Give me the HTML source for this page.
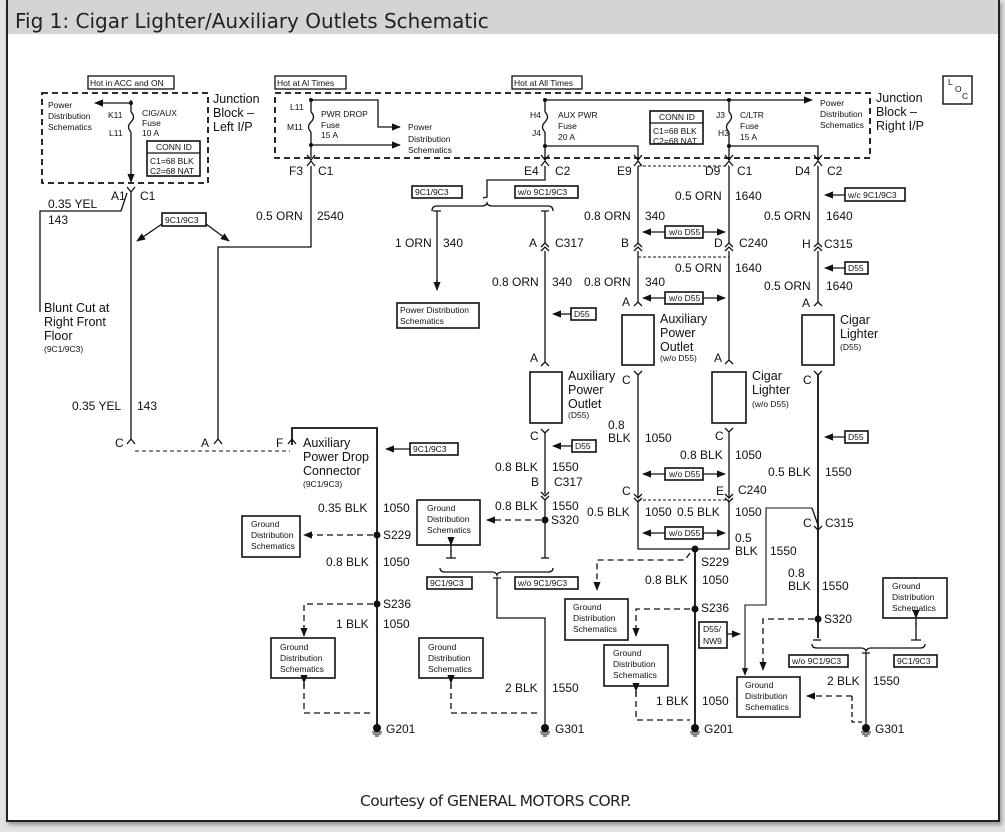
<!DOCTYPE html>
<html><head><meta charset="utf-8"><style>
html,body{margin:0;padding:0;background:#e3e3e3;}
.wrap{position:absolute;left:0;top:0;width:1005px;height:832px;overflow:hidden;background:#e3e3e3;}
.frame{position:absolute;left:6px;top:0;width:990px;height:820px;background:#fff;border-left:2px solid #222;border-right:2px solid #222;border-bottom:2px solid #222;box-shadow:2px 3px 4px #999;}
.title{position:absolute;left:0;top:0;width:990px;height:34px;background:#d4d4d4;font-family:"DejaVu Sans","Liberation Sans",sans-serif;font-size:20px;color:#222;line-height:42px;padding-left:7px;box-sizing:border-box;}
.cap{position:absolute;left:360px;top:792px;font-family:"DejaVu Sans","Liberation Sans",sans-serif;font-size:15.5px;color:#222;letter-spacing:-0.6px;}
svg{position:absolute;left:0;top:0;}
text{font-family:"Liberation Sans",sans-serif;fill:#111;dominant-baseline:central;}
.l{font-size:12px}.s{font-size:8.5px}.m{font-size:9.5px}.b{font-size:12.5px}
</style></head><body><div class="wrap">
<div class="frame"><div class="title">Fig 1: Cigar Lighter/Auxiliary Outlets Schematic</div></div>
<div class="cap">Courtesy of GENERAL MOTORS CORP.</div>
<svg width="1005" height="832" viewBox="0 0 1005 832">
<defs>
<marker id="ar" viewBox="0 0 10 10" refX="9" refY="5" markerWidth="7" markerHeight="7" orient="auto"><path d="M0,1 L10,5 L0,9z" fill="#111"/></marker>
</defs>
<g stroke="#111" fill="none" stroke-width="1.3">
<rect x="42" y="93" width="166" height="90" stroke-dasharray="6,4" stroke-width="1.8"/>
<rect x="275" y="93" width="595" height="65" stroke-dasharray="6,4" stroke-width="1.8"/>
<rect x="88" y="76" width="86" height="13"/>
<rect x="275" y="76" width="71" height="13"/>
<rect x="512" y="76" width="70" height="13"/>
<rect x="147" y="141" width="53" height="35" stroke-width="1.6"/><line x1="147" y1="153" x2="200" y2="153"/>
<rect x="650" y="111" width="53" height="33" stroke-width="1.6"/><line x1="650" y1="123" x2="703" y2="123"/>
<rect x="943" y="76" width="29" height="28" stroke-width="1.4"/>
<line x1="131" y1="100" x2="131" y2="112"/><path d="M131,112 q5,5 0,10 q-5,5 0,10"/><line x1="131" y1="132" x2="131" y2="182" marker-end="url(#ar)"/>
<line x1="131" y1="103" x2="95" y2="103" marker-end="url(#ar)"/>
<path d="M127,187 l4,5 l4,-5"/>
<line x1="131" y1="192" x2="131" y2="440"/>
<path d="M127,193 L121,211 L40,211 L40,312"/>
<rect x="162" y="213" width="44" height="13" stroke-width="1.6"/>
<line x1="162" y1="224" x2="137" y2="241" marker-end="url(#ar)"/>
<line x1="206" y1="224" x2="229" y2="241" marker-end="url(#ar)"/>
<path d="M127,444 l4,-5 l4,5"/>
<line x1="135" y1="451" x2="290" y2="451" stroke-dasharray="4,3" stroke-width="1"/>
<line x1="311" y1="100" x2="311" y2="112"/><path d="M311,112 q5,5 0,10 q-5,5 0,10"/><line x1="311" y1="132" x2="311" y2="158"/>
<path d="M311,100 L378,100 L378,127 L400,127" marker-end="url(#ar)"/>
<line x1="311" y1="145" x2="400" y2="145" marker-end="url(#ar)"/>
<path d="M307,155 l4,5 l4,-5 M307,166 l4,-5 l4,5"/>
<path d="M311,166 L311,247 L218,247 L218,440"/>
<path d="M214,444 l4,-5 l4,5"/>
<path d="M292,445 L292,428 L377,428 L377,728" stroke-width="1.8"/>
<path d="M288,444 l4,-5 l4,5"/>
<rect x="410" y="443" width="48" height="12" stroke-width="1.6"/>
<line x1="410" y1="449" x2="386" y2="449" marker-end="url(#ar)"/>
<rect x="242" y="516" width="58" height="41" stroke-width="1.6"/>
<line x1="373" y1="535" x2="304" y2="535" stroke-dasharray="6,4" marker-end="url(#ar)"/>
<path d="M373,604 L304,604 L304,636" stroke-dasharray="6,4" marker-end="url(#ar)"/>
<rect x="271" y="638" width="64" height="40" stroke-width="1.6"/>
<path d="M304,683 L304,713 L372,713" stroke-dasharray="6,4"/>
<line x1="304" y1="683" x2="304" y2="688" marker-start="url(#ar)"/>
<line x1="545" y1="100" x2="545" y2="112"/><path d="M545,112 q5,5 0,10 q-5,5 0,10"/><line x1="545" y1="132" x2="545" y2="158"/>
<line x1="545" y1="100" x2="812" y2="100" marker-end="url(#ar)"/>
<path d="M545,146 L638,146 L638,158"/>
<path d="M541,155 l4,5 l4,-5 M541,166 l4,-5 l4,5 M634,155 l4,5 l4,-5 M634,166 l4,-5 l4,5"/>
<path d="M545,166 L545,180 L487,180 L487,197 L483,198"/>
<rect x="412" y="186" width="50" height="12" stroke-width="1.6"/>
<rect x="515" y="186" width="63" height="12" stroke-width="1.6"/>
<path d="M432,211 q0,-5 5,-5 L482,206 q4,0 5,-3 q1,3 5,3 L548,206 q5,0 5,5"/>
<path d="M433,211 l8,0 M437,211 L437,290"/><line x1="437" y1="280" x2="437" y2="290" marker-end="url(#ar)"/>
<rect x="397" y="303" width="82" height="25" stroke-width="1.6"/>
<path d="M541,211 l8,0 M545,211 L545,244"/>
<path d="M541,247 l4,-4 l4,4 M541,251 l4,-4 l4,4"/>
<line x1="545" y1="251" x2="545" y2="362"/>
<path d="M541,366 l4,-4 l4,4"/>
<rect x="571" y="308" width="25" height="12" stroke-width="1.6"/>
<line x1="571" y1="314" x2="553" y2="314" marker-end="url(#ar)"/>
<rect x="530" y="372" width="32" height="51" stroke-width="1.6"/>
<path d="M541,429 l4,4 l4,-4"/>
<line x1="545" y1="433" x2="545" y2="494"/>
<rect x="572" y="440" width="24" height="12" stroke-width="1.6"/>
<line x1="572" y1="446" x2="553" y2="446" marker-end="url(#ar)"/>
<path d="M541,492 l4,4 l4,-4 M541,496 l4,4 l4,-4"/>
<line x1="545" y1="500" x2="545" y2="558"/>
<path d="M541,558 l8,0"/>
<rect x="417" y="500" width="63" height="45" stroke-width="1.6"/>
<line x1="541" y1="520" x2="487" y2="520" stroke-dasharray="6,4" marker-end="url(#ar)"/>
<line x1="451" y1="545" x2="451" y2="552" marker-start="url(#ar)"/>
<path d="M451,550 L451,558 M446,558 l10,0"/>
<path d="M440,568 q0,4 5,4 L492,572 q4,0 5,3 q1,-3 5,-3 L548,572 q5,0 5,-4"/>
<path d="M493,578 L501,578 M497,578 L497,618 L545,618 L545,728"/>
<rect x="427" y="577" width="45" height="12" stroke-width="1.6"/>
<rect x="515" y="577" width="63" height="12" stroke-width="1.6"/>
<rect x="419" y="638" width="64" height="40" stroke-width="1.6"/>
<path d="M451,683 L451,713 L540,713" stroke-dasharray="6,4"/>
<line x1="451" y1="683" x2="451" y2="688" marker-start="url(#ar)"/>
<line x1="638" y1="166" x2="638" y2="244"/>
<path d="M634,247 l4,-4 l4,4 M634,251 l4,-4 l4,4"/>
<line x1="638" y1="251" x2="638" y2="302"/>
<path d="M634,306 l4,-4 l4,4"/>
<line x1="638" y1="257" x2="729" y2="257" stroke-dasharray="3,2" stroke-width="1"/>
<line x1="638" y1="166" x2="729" y2="166" stroke-dasharray="3,2" stroke-width="1"/>
<rect x="665" y="226" width="38" height="12" stroke-width="1.6"/>
<line x1="665" y1="232" x2="643" y2="232" marker-end="url(#ar)"/><line x1="703" y1="232" x2="725" y2="232" marker-end="url(#ar)"/>
<rect x="665" y="292" width="38" height="12" stroke-width="1.6"/>
<line x1="665" y1="298" x2="643" y2="298" marker-end="url(#ar)"/><line x1="703" y1="298" x2="725" y2="298" marker-end="url(#ar)"/>
<rect x="622" y="315" width="32" height="50" stroke-width="1.6"/>
<path d="M634,371 l4,4 l4,-4"/>
<line x1="638" y1="375" x2="638" y2="497"/>
<path d="M634,494 l4,4 l4,-4 M634,498 l4,4 l4,-4"/>
<rect x="665" y="468" width="38" height="12" stroke-width="1.6"/>
<line x1="665" y1="474" x2="643" y2="474" marker-end="url(#ar)"/><line x1="703" y1="474" x2="725" y2="474" marker-end="url(#ar)"/>
<line x1="638" y1="500" x2="729" y2="500" stroke-dasharray="3,2" stroke-width="1"/>
<rect x="665" y="527" width="38" height="12" stroke-width="1.6"/>
<line x1="665" y1="533" x2="643" y2="533" marker-end="url(#ar)"/><line x1="703" y1="533" x2="725" y2="533" marker-end="url(#ar)"/>
<path d="M638,502 L638,549 L729,549 L729,502"/>
<line x1="695" y1="549" x2="695" y2="728" stroke-width="1.8"/>
<path d="M690,553 L685,560 L597,560 L597,590" stroke-dasharray="6,4" marker-end="url(#ar)"/>
<rect x="565" y="599" width="63" height="41" stroke-width="1.6"/>
<path d="M690,609 L636,609 L636,636" stroke-dasharray="6,4" marker-end="url(#ar)"/>
<rect x="604" y="645" width="64" height="41" stroke-width="1.6"/>
<path d="M636,691 L636,720 L690,720" stroke-dasharray="6,4"/>
<line x1="636" y1="691" x2="636" y2="696" marker-start="url(#ar)"/>
<line x1="729" y1="100" x2="729" y2="112"/><path d="M729,112 q5,5 0,10 q-5,5 0,10"/><line x1="729" y1="132" x2="729" y2="158"/>
<path d="M729,146 L818,146 L818,158"/>
<path d="M725,155 l4,5 l4,-5 M725,166 l4,-5 l4,5 M814,155 l4,5 l4,-5 M814,166 l4,-5 l4,5"/>
<line x1="729" y1="166" x2="729" y2="244"/>
<path d="M725,247 l4,-4 l4,4 M725,251 l4,-4 l4,4"/>
<line x1="729" y1="251" x2="729" y2="360"/>
<path d="M725,364 l4,-4 l4,4"/>
<rect x="712" y="372" width="34" height="51" stroke-width="1.6"/>
<path d="M725,428 l4,4 l4,-4"/>
<line x1="729" y1="432" x2="729" y2="497"/>
<path d="M725,494 l4,4 l4,-4 M725,498 l4,4 l4,-4"/>
<path d="M812,508 L766,508 L766,605 L745,605 L745,675" stroke-width="1.1" marker-end="url(#ar)"/>
<rect x="699" y="622" width="28" height="26" stroke-width="1.6"/>
<line x1="727" y1="634" x2="740" y2="634" marker-end="url(#ar)"/>
<rect x="737" y="677" width="63" height="40" stroke-width="1.6"/>
<line x1="818" y1="166" x2="818" y2="244"/>
<rect x="845" y="188" width="60" height="13" stroke-width="1.6"/>
<line x1="845" y1="195" x2="825" y2="195" marker-end="url(#ar)"/>
<path d="M814,247 l4,-4 l4,4 M814,251 l4,-4 l4,4"/>
<line x1="818" y1="251" x2="818" y2="302"/>
<rect x="845" y="262" width="23" height="12" stroke-width="1.6"/>
<line x1="845" y1="268" x2="825" y2="268" marker-end="url(#ar)"/>
<path d="M814,306 l4,-4 l4,4"/>
<rect x="802" y="315" width="32" height="50" stroke-width="1.6"/>
<path d="M814,371 l4,4 l4,-4"/>
<line x1="818" y1="375" x2="818" y2="530" stroke-width="1.8"/>
<rect x="845" y="431" width="23" height="12" stroke-width="1.6"/>
<line x1="845" y1="437" x2="825" y2="437" marker-end="url(#ar)"/>
<path d="M812,508 L818,525"/>
<path d="M814,526 l4,4 l4,-4"/>
<line x1="818" y1="530" x2="818" y2="638" stroke-width="1.8"/>
<path d="M813,640 l8,0"/>
<path d="M814,619 L763,619 L763,670" stroke-dasharray="6,4" marker-end="url(#ar)"/>
<rect x="883" y="578" width="64" height="40" stroke-width="1.6"/>
<line x1="916" y1="618" x2="916" y2="625" marker-start="url(#ar)"/>
<path d="M916,623 L916,640 M911,640 l10,0"/>
<path d="M812,644 q0,4 5,4 L861,648 q4,0 5,3 q1,-3 5,-3 L920,648 q5,0 5,-4"/>
<path d="M862,653 L870,653 M866,653 L866,728"/>
<rect x="789" y="655" width="59" height="12" stroke-width="1.6"/>
<rect x="894" y="655" width="43" height="12" stroke-width="1.6"/>
<path d="M852,696 L852,722 L862,722" stroke-dasharray="5,3"/>
<line x1="852" y1="696" x2="807" y2="696" stroke-dasharray="6,4" marker-end="url(#ar)"/>
</g>
<g fill="#111">
<circle cx="377" cy="535" r="3.5"/><circle cx="377" cy="604" r="3.5"/>
<circle cx="545" cy="520" r="3.5"/><circle cx="695" cy="549" r="3.5"/><circle cx="695" cy="609" r="3.5"/><circle cx="818" cy="619" r="3.5"/>
<circle cx="311" cy="100" r="2"/><circle cx="311" cy="145" r="2"/><circle cx="545" cy="100" r="2"/><circle cx="545" cy="146" r="2"/><circle cx="729" cy="100" r="2"/><circle cx="729" cy="146" r="2"/><circle cx="131" cy="103" r="2"/>
</g>
<g stroke="#111" stroke-width="1">
<circle cx="377" cy="728" r="3.5" fill="#111"/><path d="M372,732h10M373,734h8M375,736h4"/>
<circle cx="545" cy="728" r="3.5" fill="#111"/><path d="M540,732h10M541,734h8M543,736h4"/>
<circle cx="695" cy="728" r="3.5" fill="#111"/><path d="M690,732h10M691,734h8M693,736h4"/>
<circle cx="866" cy="728" r="3.5" fill="#111"/><path d="M861,732h10M862,734h8M864,736h4"/>
</g>
<text class="s" x="90" y="83">Hot in ACC and ON</text>
<text class="s" x="277" y="83">Hot at Al Times</text>
<text class="s" x="514" y="83">Hot at All Times</text>
<text class="s" x="48" y="105">Power</text><text class="s" x="48" y="116">Distribution</text><text class="s" x="48" y="127">Schematics</text>
<text class="s" x="108" y="115">K11</text><text class="s" x="109" y="133">L11</text>
<text class="s" x="142" y="113">CIG/AUX</text><text class="s" x="142" y="123">Fuse</text><text class="s" x="142" y="133">10 A</text>
<text class="s" x="156" y="147">CONN ID</text><text class="s" x="150" y="161">C1=68 BLK</text><text class="s" x="150" y="171">C2=68 NAT</text>
<text class="b" x="213" y="99">Junction</text><text class="b" x="213" y="113">Block –</text><text class="b" x="213" y="127">Left I/P</text>
<text class="s" x="290" y="107">L11</text><text class="s" x="287" y="127">M11</text>
<text class="s" x="321" y="114">PWR DROP</text><text class="s" x="321" y="125">Fuse</text><text class="s" x="321" y="135">15 A</text>
<text class="s" x="408" y="127">Power</text><text class="s" x="408" y="139">Distribution</text><text class="s" x="408" y="150">Schematics</text>
<text class="s" x="530" y="115">H4</text><text class="s" x="532" y="133">J4</text>
<text class="s" x="558" y="115">AUX PWR</text><text class="s" x="558" y="126">Fuse</text><text class="s" x="558" y="137">20 A</text>
<text class="s" x="659" y="117">CONN ID</text><text class="s" x="653" y="131">C1=68 BLK</text><text class="s" x="653" y="141">C2=68 NAT</text>
<text class="s" x="716" y="115">J3</text><text class="s" x="718" y="133">H3</text>
<text class="s" x="740" y="115">C/LTR</text><text class="s" x="740" y="126">Fuse</text><text class="s" x="740" y="137">15 A</text>
<text class="s" x="820" y="103">Power</text><text class="s" x="820" y="114">Distribution</text><text class="s" x="820" y="125">Schematics</text>
<text class="b" x="876" y="98">Junction</text><text class="b" x="876" y="112">Block –</text><text class="b" x="876" y="126">Right I/P</text>
<text class="s" x="948" y="82">L</text><text class="s" x="955" y="89">O</text><text class="s" x="962" y="96">C</text>
<text class="l" x="289" y="171">F3</text><text class="l" x="318" y="171">C1</text>
<text class="l" x="524" y="171">E4</text><text class="l" x="555" y="171">C2</text>
<text class="l" x="617" y="171">E9</text><text class="l" x="705" y="171">D9</text><text class="l" x="737" y="171">C1</text>
<text class="l" x="795" y="171">D4</text><text class="l" x="827" y="171">C2</text>
<text class="l" x="111" y="196">A1</text><text class="l" x="140" y="196">C1</text>
<text class="l" x="48" y="204">0.35 YEL</text><text class="l" x="48" y="220">143</text>
<text class="s" x="165" y="220">9C1/9C3</text>
<text class="l" x="256" y="216">0.5 ORN</text><text class="l" x="317" y="216">2540</text>
<text class="s" x="415" y="192">9C1/9C3</text><text class="s" x="518" y="192">w/o 9C1/9C3</text>
<text class="l" x="675" y="196">0.5 ORN</text><text class="l" x="735" y="196">1640</text>
<text class="s" x="848" y="195">w/c 9C1/9C3</text>
<text class="l" x="584" y="216">0.8 ORN</text><text class="l" x="645" y="216">340</text>
<text class="l" x="764" y="216">0.5 ORN</text><text class="l" x="826" y="216">1640</text>
<text class="s" x="669" y="232">w/o D55</text>
<text class="l" x="395" y="243">1 ORN</text><text class="l" x="443" y="243">340</text>
<text class="l" x="529" y="243">A</text><text class="l" x="555" y="243">C317</text>
<text class="l" x="621" y="243">B</text><text class="l" x="714" y="243">D</text><text class="l" x="739" y="243">C240</text>
<text class="l" x="802" y="244">H</text><text class="l" x="824" y="244">C315</text>
<text class="s" x="848" y="268">D55</text>
<text class="l" x="675" y="268">0.5 ORN</text><text class="l" x="735" y="268">1640</text>
<text class="l" x="492" y="282">0.8 ORN</text><text class="l" x="552" y="282">340</text>
<text class="l" x="584" y="282">0.8 ORN</text><text class="l" x="645" y="282">340</text>
<text class="l" x="764" y="286">0.5 ORN</text><text class="l" x="826" y="286">1640</text>
<text class="s" x="669" y="298">w/o D55</text>
<text class="l" x="622" y="302">A</text><text class="l" x="802" y="303">A</text>
<text class="b" x="44" y="308">Blunt Cut at</text><text class="b" x="44" y="322">Right Front</text><text class="b" x="44" y="336">Floor</text><text class="s" x="44" y="349">(9C1/9C3)</text>
<text class="s" x="400" y="310">Power Distribution</text><text class="s" x="400" y="321">Schematics</text>
<text class="s" x="574" y="314">D55</text>
<text class="b" x="660" y="319">Auxiliary</text><text class="b" x="660" y="333">Power</text><text class="b" x="660" y="347">Outlet</text><text class="s" x="660" y="358">(w/o D55)</text>
<text class="b" x="840" y="320">Cigar</text><text class="b" x="840" y="334">Lighter</text><text class="s" x="840" y="347">(D55)</text>
<text class="l" x="530" y="358">A</text><text class="l" x="714" y="358">A</text>
<text class="l" x="622" y="380">C</text><text class="l" x="803" y="380">C</text>
<text class="b" x="568" y="376">Auxiliary</text><text class="b" x="568" y="390">Power</text><text class="b" x="568" y="404">Outlet</text><text class="s" x="568" y="415">(D55)</text>
<text class="b" x="752" y="376">Cigar</text><text class="b" x="752" y="390">Lighter</text><text class="s" x="752" y="404">(w/o D55)</text>
<text class="l" x="72" y="406">0.35 YEL</text><text class="l" x="137" y="406">143</text>
<text class="l" x="608" y="425">0.8</text><text class="l" x="608" y="438">BLK</text><text class="l" x="645" y="438">1050</text>
<text class="l" x="530" y="436">C</text><text class="l" x="715" y="436">C</text>
<text class="s" x="848" y="437">D55</text>
<text class="l" x="115" y="443">C</text><text class="l" x="201" y="443">A</text><text class="l" x="276" y="443">F</text>
<text class="b" x="303" y="443">Auxiliary</text><text class="b" x="303" y="457">Power Drop</text><text class="b" x="303" y="471">Connector</text><text class="s" x="303" y="484">(9C1/9C3)</text>
<text class="s" x="413" y="449">9C1/9C3</text><text class="s" x="575" y="446">D55</text>
<text class="l" x="680" y="455">0.8 BLK</text><text class="l" x="735" y="455">1050</text>
<text class="l" x="495" y="467">0.8 BLK</text><text class="l" x="552" y="467">1550</text>
<text class="s" x="669" y="474">w/o D55</text>
<text class="l" x="768" y="472">0.5 BLK</text><text class="l" x="825" y="472">1550</text>
<text class="l" x="531" y="482">B</text><text class="l" x="554" y="482">C317</text>
<text class="l" x="622" y="491">C</text><text class="l" x="716" y="491">E</text><text class="l" x="738" y="490">C240</text>
<text class="l" x="495" y="506">0.8 BLK</text><text class="l" x="552" y="506">1550</text>
<text class="l" x="318" y="508">0.35 BLK</text><text class="l" x="383" y="508">1050</text>
<text class="s" x="427" y="508">Ground</text><text class="s" x="427" y="519">Distribution</text><text class="s" x="427" y="530">Schematics</text>
<text class="l" x="587" y="512">0.5 BLK</text><text class="l" x="645" y="512">1050</text><text class="l" x="677" y="512">0.5 BLK</text><text class="l" x="735" y="512">1050</text>
<text class="l" x="551" y="520">S320</text>
<text class="l" x="803" y="523">C</text><text class="l" x="825" y="523">C315</text>
<text class="s" x="251" y="524">Ground</text><text class="s" x="251" y="535">Distribution</text><text class="s" x="251" y="546">Schematics</text>
<text class="l" x="383" y="535">S229</text>
<text class="s" x="669" y="533">w/o D55</text>
<text class="l" x="735" y="538">0.5</text><text class="l" x="735" y="551">BLK</text><text class="l" x="770" y="551">1550</text>
<text class="l" x="701" y="562">S229</text>
<text class="l" x="326" y="562">0.8 BLK</text><text class="l" x="383" y="562">1050</text>
<text class="l" x="788" y="573">0.8</text><text class="l" x="788" y="586">BLK</text><text class="l" x="822" y="586">1550</text>
<text class="s" x="430" y="583">9C1/9C3</text><text class="s" x="518" y="583">w/o 9C1/9C3</text>
<text class="l" x="645" y="580">0.8 BLK</text><text class="l" x="702" y="580">1050</text>
<text class="s" x="892" y="586">Ground</text><text class="s" x="892" y="597">Distribution</text><text class="s" x="892" y="608">Schematics</text>
<text class="l" x="383" y="604">S236</text>
<text class="s" x="573" y="607">Ground</text><text class="s" x="573" y="618">Distribution</text><text class="s" x="573" y="629">Schematics</text>
<text class="l" x="701" y="608">S236</text>
<text class="l" x="824" y="619">S320</text>
<text class="l" x="336" y="624">1 BLK</text><text class="l" x="383" y="624">1050</text>
<text class="s" x="703" y="629">D55/</text><text class="s" x="703" y="641">NW9</text>
<text class="s" x="280" y="647">Ground</text><text class="s" x="280" y="658">Distribution</text><text class="s" x="280" y="669">Schematics</text>
<text class="s" x="428" y="647">Ground</text><text class="s" x="428" y="658">Distribution</text><text class="s" x="428" y="669">Schematics</text>
<text class="s" x="613" y="653">Ground</text><text class="s" x="613" y="664">Distribution</text><text class="s" x="613" y="675">Schematics</text>
<text class="s" x="792" y="661">w/o 9C1/9C3</text><text class="s" x="897" y="661">9C1/9C3</text>
<text class="l" x="827" y="681">2 BLK</text><text class="l" x="873" y="681">1550</text>
<text class="s" x="745" y="685">Ground</text><text class="s" x="745" y="696">Distribution</text><text class="s" x="745" y="707">Schematics</text>
<text class="l" x="505" y="688">2 BLK</text><text class="l" x="552" y="688">1550</text>
<text class="l" x="656" y="701">1 BLK</text><text class="l" x="702" y="701">1050</text>
<text class="l" x="386" y="729">G201</text><text class="l" x="555" y="729">G301</text><text class="l" x="704" y="729">G201</text><text class="l" x="875" y="729">G301</text>
</svg>
</div></body></html>
